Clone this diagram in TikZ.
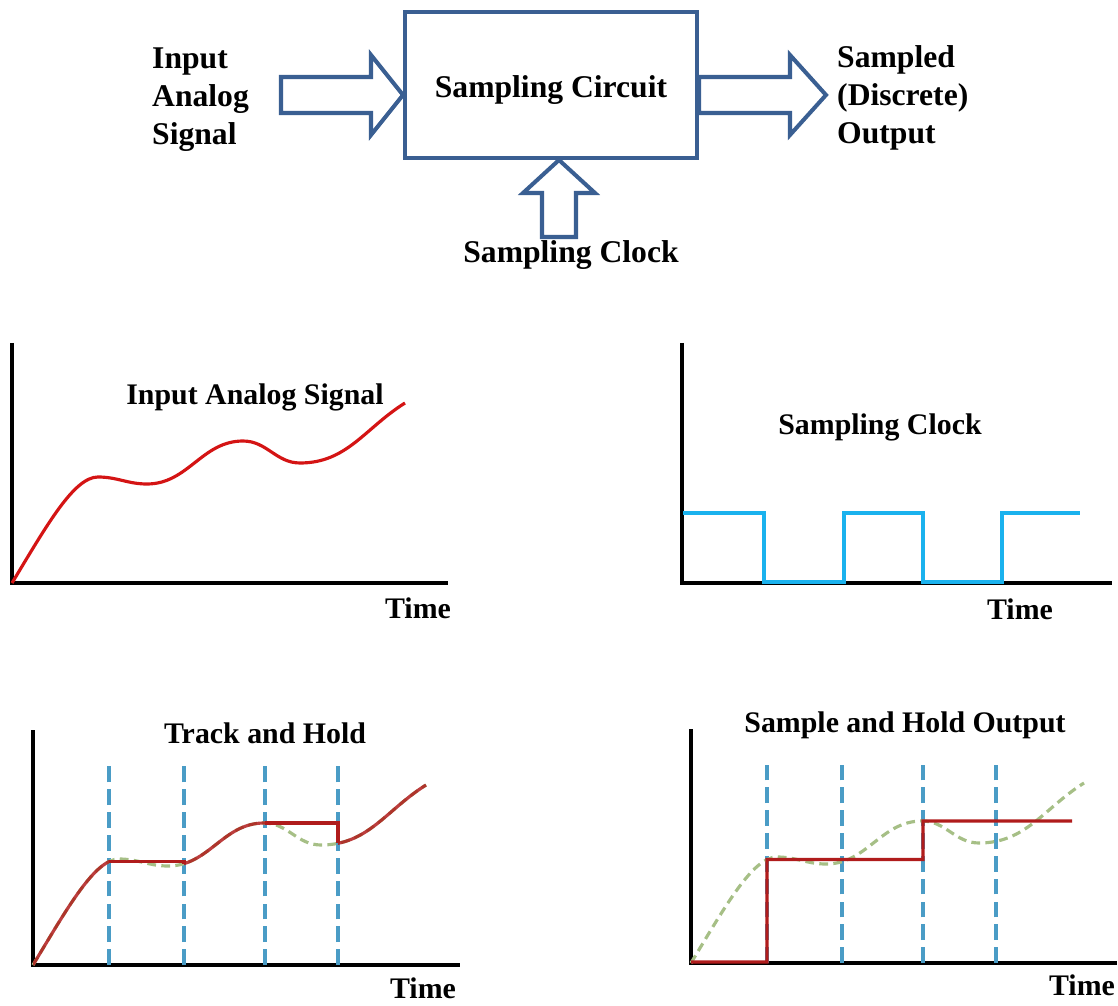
\documentclass[tikz,border=0pt]{standalone}
\usepackage{fontspec}
\setmainfont{Liberation Serif}
\usetikzlibrary{intersections}

\definecolor{boxblue}{HTML}{3A5F92}
\definecolor{sigred}{HTML}{D41414}
\definecolor{holdred}{HTML}{B01C1C}
\definecolor{clkblue}{HTML}{1AB2EE}
\definecolor{tickblue}{HTML}{4A9CC6}
\definecolor{siggreen}{HTML}{A6BF86}

% analog input, measured from the corner of each plot
\newcommand{\sigpath}{(0,0) .. controls (35,58) and (62,106) .. (86,106)
  to[out=0,in=180] (135,99) to[out=0,in=180] (231,142)
  to[out=0,in=180] (288,120) to[out=0,in=212] (393,180)}

\begin{document}
\begin{tikzpicture}[x=0.02cm, y=0.02cm,
    lbl/.style={font=\bfseries\fontsize{18}{21.6}\selectfont},
    plbl/.style={font=\bfseries\fontsize{17}{20}\selectfont},
    blockarr/.style={draw=boxblue, line width=2.3pt, fill=white, line join=miter},
    axis/.style={line width=2pt},
    sample/.style={tickblue, line width=2.1pt, dash pattern=on 9pt off 4pt},
    trace/.style={line width=1.8pt}]
  \useasboundingbox (0,0) rectangle (1118,1005);

  % block diagram
  \node[draw=boxblue, line width=2.3pt, minimum width=5.84cm, minimum height=2.92cm] (circuit) at (551,920) {};
  \node[lbl, yshift=-3pt] (circuitlbl) at (circuit) {Sampling Circuit};
  \draw[blockarr] ([yshift=-0.2cm]circuit.west) -- ++(-32,40) -- ++(0,-22) -- ++(-90,0)
    -- ++(0,-36) -- ++(90,0) -- ++(0,-22) -- cycle;
  \draw[blockarr] ([yshift=-0.2cm]circuit.east) -- ++(0,18) -- ++(91,0) -- ++(0,22)
    -- ++(36,-40) -- ++(-36,-40) -- ++(0,22) -- ++(-91,0) -- cycle;
  \draw[blockarr] ([xshift=0.16cm]circuit.south) -- ++(36,-33) -- ++(-19,0) -- ++(0,-44)
    -- ++(-34,0) -- ++(0,44) -- ++(-19,0) -- cycle;
  \node[lbl, align=left, anchor=west] (inlbl) at (146,905) {Input\\Analog\\Signal};
  \node[lbl, align=left, anchor=west] (outlbl) at (831,907) {Sampled\\(Discrete)\\Output};
  \node[lbl] (clklbl) at (571,750) {Sampling Clock};

  % input signal
  \begin{scope}[shift={(12,422)}]
    \draw[axis] (0,240) -- (0,0) -- (436,0);
    \draw[sigred, trace] \sigpath;
    \node[plbl] (siglbl) at (243,186) {Input Analog Signal};
    \node[plbl] (time1) at (406,-25) {Time};
  \end{scope}

  % clock
  \begin{scope}[shift={(682,422)}]
    \draw[axis] (0,240) -- (0,0) -- (430,0);
    \draw[clkblue, trace] (1,70) -- (82,70) -- (82,1) -- (162,1) -- (162,70) -- (241,70)
      -- (241,1) -- (320,1) -- (320,70) -- (398,70);
    \node[plbl] (clkplbl) at (198,156) {Sampling Clock};
    \node[plbl] (time2) at (338,-26) {Time};
  \end{scope}

  % track and hold
  \begin{scope}[shift={(33,40)}]
    \draw[axis] (0,235) -- (0,0) -- (427,0);
    \path[name path=sig3] \sigpath;
    \foreach \s [count=\i] in {76,151,232,305} {
      \draw[sample] (\s,0) -- (\s,200);
      \path[name path=cut] (\s,-10) -- (\s,250);
      \path[name intersections={of=sig3 and cut}] (intersection-1) coordinate (th\i);
    }
    \draw[siggreen, trace, dash pattern=on 5pt off 3pt] \sigpath;
    \foreach \a/\b in {0/76, 151/232, 305/400} {
      \begin{scope}
        \clip (\a,-10) rectangle (\b,250);
        \draw[holdred, trace, opacity=0.85] \sigpath;
      \end{scope}
    }
    \draw[holdred, trace] (th1) -- (th1 -| th2) -- (th2);
    \draw[holdred, trace] (th3) -- (th3 -| th4) -- (th4);
    \node[plbl] (thlbl) at (232,232) {Track and Hold};
    \node[plbl] (time3) at (390,-23) {Time};
  \end{scope}

  % sample and hold
  \begin{scope}[shift={(691,42)}]
    \draw[axis] (0,234) -- (0,0) -- (426,0);
    \path[name path=sig4] \sigpath;
    \foreach \s [count=\i] in {76,151,232,305} {
      \draw[sample] (\s,0) -- (\s,198);
      \path[name path=cut] (\s,-10) -- (\s,250);
      \path[name intersections={of=sig4 and cut}] (intersection-1) coordinate (sh\i);
    }
    \draw[siggreen, trace, dash pattern=on 5pt off 3pt] \sigpath;
    \draw[holdred, trace] (0,1) -- (76,1) -- (sh1) -- (sh1 -| sh3) -- (sh3) -- ++(149,0);
    \node[plbl] (shlbl) at (214,238) {Sample and Hold Output};
    \node[plbl] (time4) at (391,-22) {Time};
  \end{scope}
\end{tikzpicture}
\end{document}
